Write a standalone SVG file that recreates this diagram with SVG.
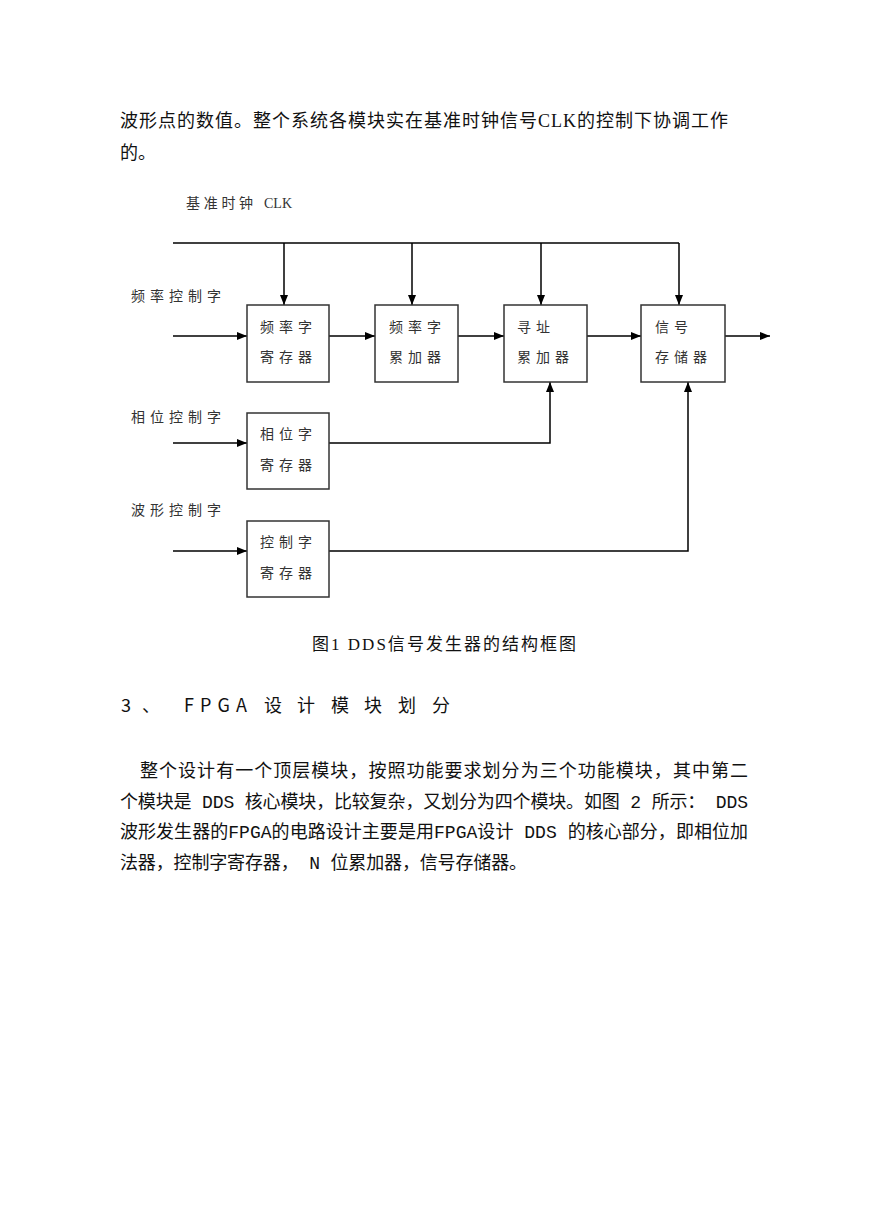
<svg xmlns="http://www.w3.org/2000/svg" width="869" height="1228" viewBox="0 0 869 1228">
<style>
.bg{fill:#ffffff}
.box{fill:#ffffff;stroke:#333333;stroke-width:1.5}
.ln{fill:none;stroke:#000000;stroke-width:1.5}
.lbl{font-family:"Liberation Serif","Noto Sans CJK SC",serif;font-size:14px;fill:#333333;letter-spacing:5px}
.para{font-family:"Liberation Serif","Noto Sans CJK SC",serif;font-size:18px;fill:#111111}
.cap{font-family:"Liberation Serif","Noto Sans CJK SC",serif;font-size:17px;fill:#111111}
.head{font-family:"Noto Sans CJK SC",sans-serif;font-size:18px;fill:#111111}
.body{font-family:"Liberation Mono","Noto Sans CJK SC",monospace;font-size:18px;fill:#111111}
</style>
<defs>
<marker id="arr" markerWidth="10" markerHeight="8" refX="10" refY="4" orient="auto" markerUnits="userSpaceOnUse">
<path d="M0,0 L10,4 L0,8 Z" fill="#000000"/>
</marker>
</defs>
<rect class="bg" x="0" y="0" width="869" height="1228"/>

<g id="intro-text">
<text class="para" x="120" y="127" textLength="608">波形点的数值。整个系统各模块实在基准时钟信号CLK的控制下协调工作</text>
<text class="para" x="120" y="159">的。</text>
</g>

<g id="labels">
<text class="lbl" x="186" y="208" style="letter-spacing:3.7px">基准时钟</text>
<text class="lbl" x="264" y="208" style="letter-spacing:0px">CLK</text>
<text class="lbl" x="131" y="301">频率控制字</text>
<text class="lbl" x="131" y="422">相位控制字</text>
<text class="lbl" x="131" y="515">波形控制字</text>
</g>

<g id="connectors">
<path class="ln" d="M173,243 H679"/>
<path class="ln" d="M284,243 V305" marker-end="url(#arr)"/>
<path class="ln" d="M412,243 V305" marker-end="url(#arr)"/>
<path class="ln" d="M541,243 V305" marker-end="url(#arr)"/>
<path class="ln" d="M679,243 V305" marker-end="url(#arr)"/>
<path class="ln" d="M173,336 H247" marker-end="url(#arr)"/>
<path class="ln" d="M329,336 H375" marker-end="url(#arr)"/>
<path class="ln" d="M458,336 H504" marker-end="url(#arr)"/>
<path class="ln" d="M587,336 H641" marker-end="url(#arr)"/>
<path class="ln" d="M725,336 H770" marker-end="url(#arr)"/>
<path class="ln" d="M173,443 H247" marker-end="url(#arr)"/>
<path class="ln" d="M173,551 H247" marker-end="url(#arr)"/>
<path class="ln" d="M329,443 H550 V382" marker-end="url(#arr)"/>
<path class="ln" d="M329,551 H688 V382" marker-end="url(#arr)"/>
</g>

<g id="freq-reg">
<rect class="box" x="247" y="305" width="82" height="77"/>
<text class="lbl" x="260" y="332">频率字</text>
<text class="lbl" x="260" y="362">寄存器</text>
</g>
<g id="freq-acc">
<rect class="box" x="375" y="305" width="83" height="77"/>
<text class="lbl" x="389" y="332">频率字</text>
<text class="lbl" x="389" y="362">累加器</text>
</g>
<g id="addr-acc">
<rect class="box" x="504" y="305" width="83" height="77"/>
<text class="lbl" x="517" y="332">寻址</text>
<text class="lbl" x="517" y="362">累加器</text>
</g>
<g id="signal-mem">
<rect class="box" x="641" y="305" width="84" height="77"/>
<text class="lbl" x="655" y="332">信号</text>
<text class="lbl" x="655" y="362">存储器</text>
</g>
<g id="phase-reg">
<rect class="box" x="247" y="413" width="82" height="76"/>
<text class="lbl" x="260" y="439">相位字</text>
<text class="lbl" x="260" y="470">寄存器</text>
</g>
<g id="ctrl-reg">
<rect class="box" x="247" y="521" width="82" height="76"/>
<text class="lbl" x="260" y="547">控制字</text>
<text class="lbl" x="260" y="578">寄存器</text>
</g>

<g id="caption">
<text class="cap" x="312" y="650" textLength="264">图1 DDS信号发生器的结构框图</text>
</g>

<g id="heading">
<text class="head" x="121" y="712">3</text>
<text class="head" x="142" y="712">、</text>
<text class="head" x="184" y="712" textLength="63">FPGA</text>
<text class="head" x="264" y="712">设</text>
<text class="head" x="297" y="712">计</text>
<text class="head" x="331" y="712">模</text>
<text class="head" x="364" y="712">块</text>
<text class="head" x="398" y="712">划</text>
<text class="head" x="432" y="712">分</text>
</g>

<g id="body-text">
<text class="body" x="140" y="777" textLength="608">整个设计有一个顶层模块，按照功能要求划分为三个功能模块，其中第二</text>
<text class="body" x="120" y="808" textLength="628">个模块是 DDS 核心模块，比较复杂，又划分为四个模块。如图 2 所示： DDS</text>
<text class="body" x="120" y="838" textLength="628">波形发生器的FPGA的电路设计主要是用FPGA设计 DDS 的核心部分，即相位加</text>
<text class="body" x="120" y="869" textLength="407">法器，控制字寄存器， N 位累加器，信号存储器。</text>
</g>
</svg>
